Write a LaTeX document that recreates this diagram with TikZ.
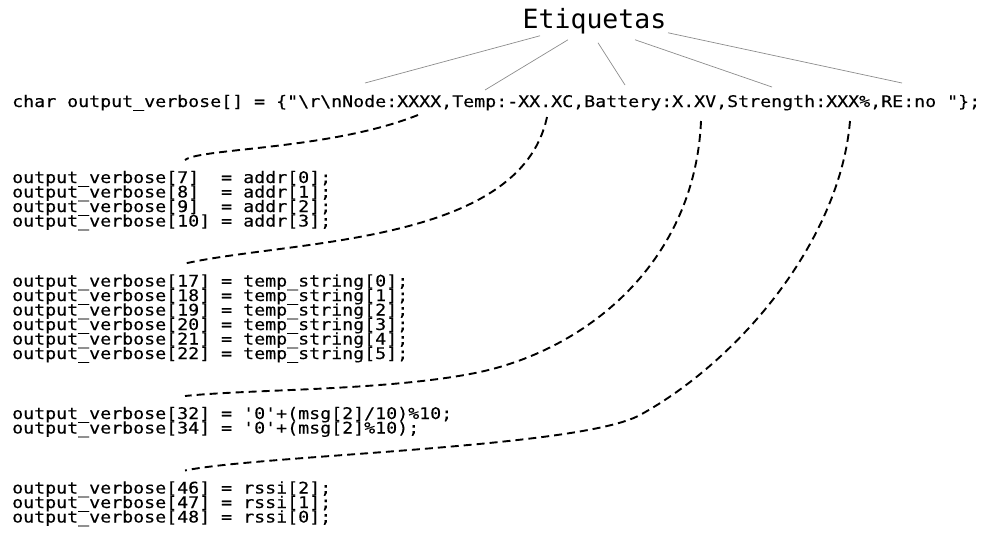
\documentclass[tikz,border=0pt]{standalone}
\usepackage{fontspec}
\setmonofont[FakeStretch=1.142,FakeBold=0.3]{DejaVu Sans Mono}
\newfontfamily\labelfont{DejaVu Sans Mono}
\usetikzlibrary{positioning}
\tikzset{
	code/.style={anchor=base west, inner sep=0pt, font=\ttfamily\fontsize{16}{14.5}\selectfont},
	tag/.style={draw=black!45, line width=0.7pt},
	link/.style={draw=black, line width=1.9pt, dash pattern=on 8pt off 5pt},
}

\begin{document}
\begin{tikzpicture}[x=1pt,y=-1pt]
	\useasboundingbox (0,0) rectangle (990,539);
	
	\node [anchor=base, inner sep=0pt, font=\labelfont\fontsize{26.5}{30}\selectfont] (etiq) at (594.5,28) {Etiquetas};
	\node [code] (decl) at (12,107) {char output\_verbose[] = \{"\textbackslash r\textbackslash nNode:XXXX,Temp:-XX.XC,Battery:X.XV,Strength:XXX\%,RE:no "\};};
	
	% addr
	\node [code] (v7) at (12,183) {output\_verbose[7]\ \ = addr[0];};
	\node [code] (v8) at (12,197.5) {output\_verbose[8]\ \ = addr[1];};
	\node [code] (v9) at (12,212) {output\_verbose[9]\ \ = addr[2];};
	\node [code] (v10) at (12,226.5) {output\_verbose[10] = addr[3];};
	
	% temp
	\node [code] (v17) at (12,286.5) {output\_verbose[17] = temp\_string[0];};
	\node [code] (v18) at (12,301) {output\_verbose[18] = temp\_string[1];};
	\node [code] (v19) at (12,315.5) {output\_verbose[19] = temp\_string[2];};
	\node [code] (v20) at (12,330) {output\_verbose[20] = temp\_string[3];};
	\node [code] (v21) at (12,344.5) {output\_verbose[21] = temp\_string[4];};
	\node [code] (v22) at (12,359) {output\_verbose[22] = temp\_string[5];};
	
	% battery
	\node [code] (v32) at (12,419) {output\_verbose[32] = '0'+(msg[2]/10)\%10;};
	\node [code] (v34) at (12,433.5) {output\_verbose[34] = '0'+(msg[2]\%10);};
	
	% strength
	\node [code] (v46) at (12,493.5) {output\_verbose[46] = rssi[2];};
	\node [code] (v47) at (12,508) {output\_verbose[47] = rssi[1];};
	\node [code] (v48) at (12,522.5) {output\_verbose[48] = rssi[0];};
	
	% ends of the labels
	\coordinate (tNode) at (365,83);
	\coordinate (tTemp) at (485,90);
	\coordinate (tBatt) at (625,85);
	\coordinate (tStr) at (772,87);
	\coordinate (tRE) at (902,83);
	
	\draw [tag] ([shift={(-54.5,2)}]etiq.south) -- (tNode);
	\draw [tag] ([shift={(-26.5,6)}]etiq.south) -- (tTemp);
	\draw [tag] ([shift={(3.5,9)}]etiq.south) -- (tBatt);
	\draw [tag] ([shift={(40.5,6)}]etiq.south) -- (tStr);
	\draw [tag] ([shift={(73.5,-1)}]etiq.south) -- (tRE);
	
	% ends of the dashed links
	\coordinate (sNode) at (418,115);
	\coordinate (sTemp) at (547,117);
	\coordinate (sBatt) at (701,121);
	\coordinate (sStr) at (850,121);
	\coordinate (eAddr) at (185,160);
	\coordinate (eTemp) at (185,263.5);
	\coordinate (eBatt) at (185,396);
	\coordinate (eStr) at (185,470.5);
	
	\draw [link] (sNode) .. controls (330,150) and (200,148) .. (eAddr);
	\draw [link] (sTemp) .. controls (520,245) and (290,240) .. (eTemp);
	\draw [link] (sBatt) .. controls (695,260) and (590,348) .. (480,372) .. controls (390,391) and (250,389) .. (eBatt);
	\draw [link] (sStr) .. controls (840,240) and (740,360) .. (640,415) .. controls (580,448) and (260,455) .. (eStr);
	
\end{tikzpicture}
\end{document}
